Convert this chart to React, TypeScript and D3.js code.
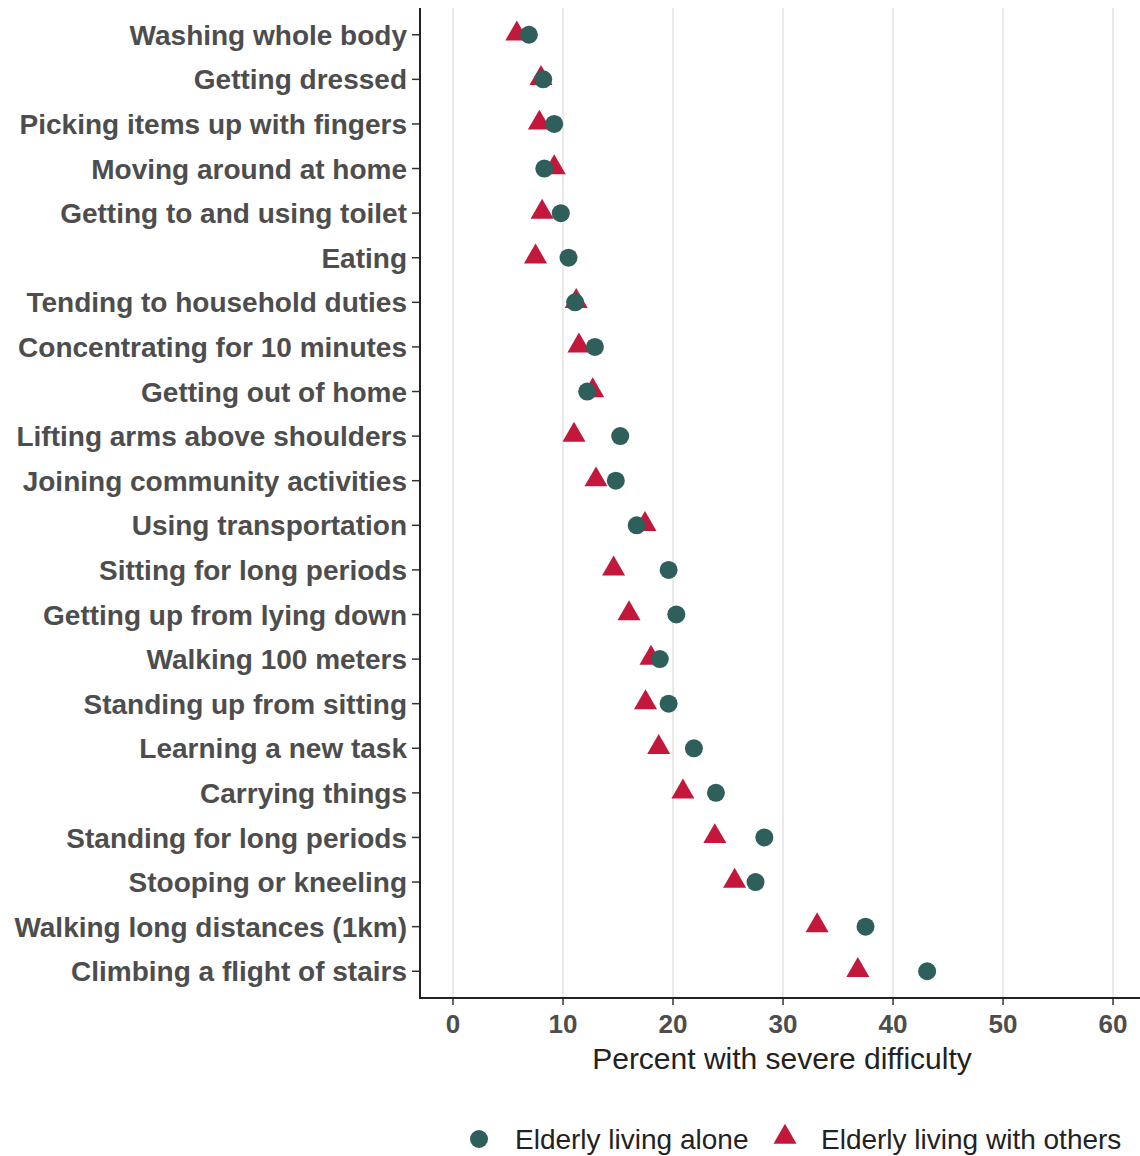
import * as d3 from "d3";

const activities = [
  "Washing whole body",
  "Getting dressed",
  "Picking items up with fingers",
  "Moving around at home",
  "Getting to and using toilet",
  "Eating",
  "Tending to household duties",
  "Concentrating for 10 minutes",
  "Getting out of home",
  "Lifting arms above shoulders",
  "Joining community activities",
  "Using transportation",
  "Sitting for long periods",
  "Getting up from lying down",
  "Walking 100 meters",
  "Standing up from sitting",
  "Learning a new task",
  "Carrying things",
  "Standing for long periods",
  "Stooping or kneeling",
  "Walking long distances (1km)",
  "Climbing a flight of stairs",
];

const livingAlone = [
  6.9, 8.2, 9.2, 8.3, 9.8, 10.5, 11.1, 12.9, 12.2, 15.2, 14.8, 16.7, 19.6, 20.3,
  18.8, 19.6, 21.9, 23.9, 28.3, 27.5, 37.5, 43.1,
];

const livingWithOthers = [
  5.8, 8.0, 7.85, 9.2, 8.1, 7.5, 11.2, 11.45, 12.7, 11.0, 13.0, 17.45, 14.6,
  16.0, 18.0, 17.5, 18.7, 20.9, 23.8, 25.6, 33.1, 36.8,
];

const xTicks = [0, 10, 20, 30, 40, 50, 60];

const seriesNames = ["Elderly living alone", "Elderly living with others"];

const ALONE = "#2f5f5b";
const OTHERS = "#c3173b";
const TEXT = "#4d4d4d";
const FONT = "'Liberation Sans', Arial, Helvetica, sans-serif";

const W = 1140;
const H = 1156;
const plot = { left: 420, right: 1140, top: 8, bottom: 998 };

const App = () => {
  const x = d3.scaleLinear().domain([-3, 62.45]).range([plot.left, plot.right]);
  const y = d3
    .scalePoint<string>()
    .domain(activities)
    .range([plot.top, plot.bottom])
    .padding(0.6);

  const tri = d3.symbol().type(d3.symbolTriangle).size(230);

  return (
    <svg
      width={W}
      height={H}
      style={{ position: "absolute", left: 0, top: 0, background: "#fff" }}
      fontFamily={FONT}
    >
      {/* grid */}
      {xTicks.map((t) => (
        <line
          key={"g" + t}
          x1={x(t)}
          x2={x(t)}
          y1={plot.top}
          y2={plot.bottom}
          stroke="#e3e3e3"
          strokeWidth={1.5}
        />
      ))}

      {/* y axis labels */}
      {activities.map((a) => (
        <g key={a}>
          <text
            x={plot.left - 13}
            y={y(a)!}
            dy="0.36em"
            textAnchor="end"
            fontSize={28}
            fontWeight="bold"
            fill={TEXT}
          >
            {a}
          </text>
          <line
            x1={plot.left - 8}
            x2={plot.left}
            y1={y(a)!}
            y2={y(a)!}
            stroke="#333"
            strokeWidth={1.5}
          />
        </g>
      ))}

      {/* x axis */}
      {xTicks.map((t) => (
        <g key={"t" + t}>
          <line
            x1={x(t)}
            x2={x(t)}
            y1={plot.bottom}
            y2={plot.bottom + 7}
            stroke="#333"
            strokeWidth={1.5}
          />
          <text
            x={x(t)}
            y={plot.bottom + 26}
            dy="0.36em"
            textAnchor="middle"
            fontSize={26}
            fontWeight="bold"
            fill={TEXT}
          >
            {t}
          </text>
        </g>
      ))}
      <line x1={plot.left} x2={plot.left} y1={plot.top} y2={plot.bottom + 1} stroke="#222" strokeWidth={2} />
      <line x1={plot.left - 1} x2={plot.right} y1={plot.bottom} y2={plot.bottom} stroke="#222" strokeWidth={2} />
      <text
        x={(plot.left + plot.right) / 2 + 2}
        y={1058}
        dy="0.36em"
        textAnchor="middle"
        fontSize={30}
        fill="#222"
      >
        Percent with severe difficulty
      </text>

      {/* points */}
      {activities.map((a, i) => (
        <g key={"p" + a}>
          <path
            d={tri()!}
            transform={`translate(${x(livingWithOthers[i])},${y(a)! - 1})`}
            fill={OTHERS}
          />
          <circle cx={x(livingAlone[i])} cy={y(a)!} r={9} fill={ALONE} />
        </g>
      ))}

      {/* legend */}
      <g>
        <circle cx={479} cy={1139} r={9} fill={ALONE} />
        <text x={515} y={1139} dy="0.36em" fontSize={28} fill="#222">
          {seriesNames[0]}
        </text>
        <path d={tri()!} transform="translate(785,1137)" fill={OTHERS} />
        <text x={821} y={1139} dy="0.36em" fontSize={28} fill="#222">
          {seriesNames[1]}
        </text>
      </g>
    </svg>
  );
};

export default App;
